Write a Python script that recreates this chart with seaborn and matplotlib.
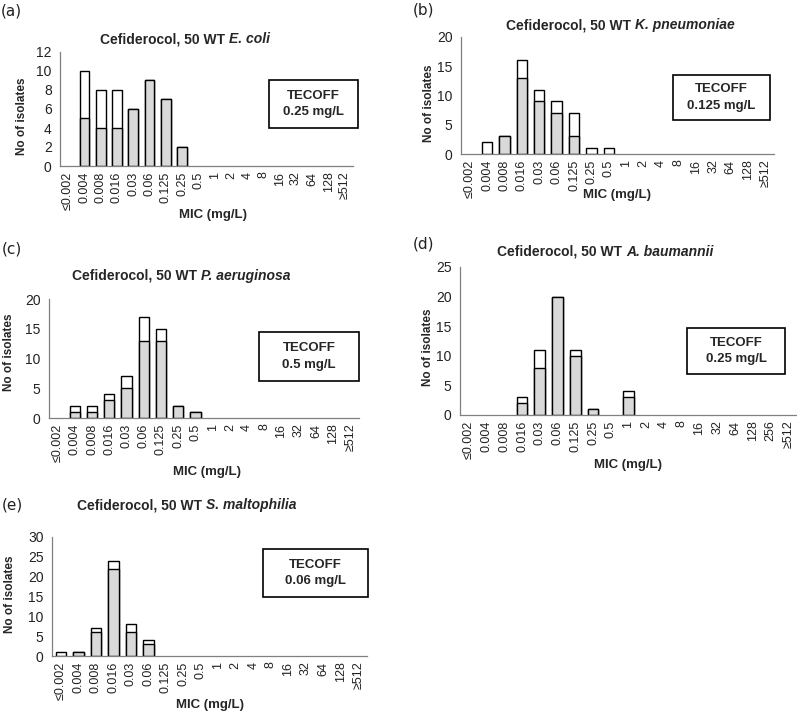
import pandas as pd
import matplotlib.pyplot as plt
import seaborn as sns
from matplotlib.patches import Rectangle

# MIC-Stufen
mic_levels = ['≤0.002', '0.004', '0.008', '0.016', '0.03', '0.06', '0.125', '0.25', '0.5',
              '1', '2', '4', '8', '16', '32', '64', '128', '≥512']
mic_levels_ab = ['≤0.002', '0.004', '0.008', '0.016', '0.03', '0.06', '0.125', '0.25', '0.5',
                 '1', '2', '4', '8', '16', '32', '64', '128', '256', '≥512']

# grauer Anteil (unten) und weisser Anteil (oben) je MIC-Stufe
ecoli_grey = [0, 5, 4, 4, 6, 9, 7, 2, 0, 0, 0, 0, 0, 0, 0, 0, 0, 0]
ecoli_white = [0, 5, 4, 4, 0, 0, 0, 0, 0, 0, 0, 0, 0, 0, 0, 0, 0, 0]

kpn_grey = [0, 0, 3, 13, 9, 7, 3, 0, 0, 0, 0, 0, 0, 0, 0, 0, 0, 0]
kpn_white = [0, 2, 0, 3, 2, 2, 4, 1, 1, 0, 0, 0, 0, 0, 0, 0, 0, 0]

pae_grey = [0, 1, 1, 3, 5, 13, 13, 2, 1, 0, 0, 0, 0, 0, 0, 0, 0, 0]
pae_white = [0, 1, 1, 1, 2, 4, 2, 0, 0, 0, 0, 0, 0, 0, 0, 0, 0, 0]

ab_grey = [0, 0, 0, 2, 8, 20, 10, 1, 0, 3, 0, 0, 0, 0, 0, 0, 0, 0, 0]
ab_white = [0, 0, 0, 1, 3, 0, 1, 0, 0, 1, 0, 0, 0, 0, 0, 0, 0, 0, 0]

sm_grey = [0, 1, 6, 22, 6, 3, 0, 0, 0, 0, 0, 0, 0, 0, 0, 0, 0, 0]
sm_white = [1, 0, 1, 2, 2, 1, 0, 0, 0, 0, 0, 0, 0, 0, 0, 0, 0, 0]

W, H = 797, 713


def fx(px):
    return px / W


def fy(py):
    return 1 - py / H


def draw_panel(fig, letter, species, tecoff, levels, grey, white, ymax, ystep,
               ax_box, title_pos, label_pos, ylabel_pos, xlabel_pos, box):
    left, top, right, bottom = ax_box
    ax = fig.add_axes([fx(left), fy(bottom), (right - left) / W, (bottom - top) / H])

    df = pd.DataFrame({'mic': levels, 'grey': grey, 'white': white})
    df['total'] = df['grey'] + df['white']

    tot = df[df['total'] > 0]
    sns.barplot(data=tot, x='mic', y='total', order=levels, color='white', saturation=1,
                edgecolor='black', linewidth=1.0, width=0.6, ax=ax)
    gr = df[df['grey'] > 0]
    sns.barplot(data=gr, x='mic', y='grey', order=levels, color='#d9d9d9', saturation=1,
                edgecolor='black', linewidth=1.0, width=0.6, ax=ax)

    n = len(levels)
    ax.set_xlim(-0.5, n - 0.5)
    ax.set_ylim(0, ymax)
    ax.set_yticks(range(0, ymax + 1, ystep))
    ax.set_xticks(range(n))
    ax.set_xticklabels(levels, rotation=90)
    ax.set_xticks([i - 0.5 for i in range(n + 1)], minor=True)
    ax.tick_params(axis='x', which='major', length=0, pad=4, labelsize=9, colors='#222222')
    ax.tick_params(axis='x', which='minor', length=4, width=0.8, color='#808080')
    ax.tick_params(axis='y', length=4, width=0.8, color='#808080', labelsize=10, pad=2,
                   labelcolor='#222222')
    ax.set_xlabel('')
    ax.set_ylabel('')
    for s in ['top', 'right']:
        ax.spines[s].set_visible(False)
    for s in ['left', 'bottom']:
        ax.spines[s].set_color('#808080')
        ax.spines[s].set_linewidth(0.9)
    ax.set_facecolor('none')

    # Titel: normaler fetter Teil + kursiver Artname
    t1 = fig.text(fx(title_pos[0]), fy(title_pos[1]), 'Cefiderocol, 50 WT ',
                  fontsize=10, fontweight='bold', ha='left', va='center')
    ax.annotate(species, xy=(1, 0.5), xycoords=t1, ha='left', va='center',
                fontsize=10, fontweight='bold', style='italic', annotation_clip=False)

    fig.text(fx(label_pos[0]), fy(label_pos[1]), '(' + letter + ')', fontsize=11,
             family=['DejaVu Sans'], ha='left', va='center', color='#222222')
    fig.text(fx(ylabel_pos[0]), fy(ylabel_pos[1]), 'No of isolates', rotation=90,
             fontsize=8.5, fontweight='bold', ha='center', va='center')
    fig.text(fx(xlabel_pos[0]), fy(xlabel_pos[1]), 'MIC (mg/L)',
             fontsize=9.5, fontweight='bold', ha='center', va='center')

    bx0, by0, bx1, by1 = box
    fig.patches.append(Rectangle((fx(bx0), fy(by1)), (bx1 - bx0) / W, (by1 - by0) / H,
                                 transform=fig.transFigure, fill=False,
                                 edgecolor='black', linewidth=1.2))
    fig.text(fx((bx0 + bx1) / 2), fy((by0 + by1) / 2), 'TECOFF\n' + tecoff,
             fontsize=9.5, fontweight='bold', ha='center', va='center',
             multialignment='center', linespacing=1.45)
    return ax


def main():
    sns.set_style('white')
    plt.rcParams['font.family'] = ['Liberation Sans', 'DejaVu Sans']

    fig = plt.figure(figsize=(W / 100, H / 100), dpi=100)

    draw_panel(fig, 'a', 'E. coli', '0.25 mg/L', mic_levels, ecoli_grey, ecoli_white, 12, 2,
               (60, 52, 353, 166), (100, 39), (1, 11), (22, 116), (213, 215),
               (269, 80, 358, 128))
    draw_panel(fig, 'b', 'K. pneumoniae', '0.125 mg/L', mic_levels, kpn_grey, kpn_white, 20, 5,
               (461, 37, 774, 154), (506, 25), (413, 10), (429, 103), (617, 195),
               (673, 75, 770, 120))
    draw_panel(fig, 'c', 'P. aeruginosa', '0.5 mg/L', mic_levels, pae_grey, pae_white, 20, 5,
               (49, 299, 359, 418), (72, 276), (2, 249), (9, 352), (207, 472),
               (259, 332, 359, 381))
    draw_panel(fig, 'd', 'A. baumannii', '0.25 mg/L', mic_levels_ab, ab_grey, ab_white, 25, 5,
               (460, 267, 797, 415), (497, 252), (413, 244), (428, 347), (628, 465),
               (687, 328, 785, 374))
    draw_panel(fig, 'e', 'S. maltophilia', '0.06 mg/L', mic_levels, sm_grey, sm_white, 30, 5,
               (52, 537, 367, 656), (77, 505), (2, 505), (10, 594), (210, 705),
               (263, 549, 368, 597))

    fig.savefig('out.png', dpi=100, facecolor='white')
    plt.close(fig)


if __name__ == "__main__":
    main()
